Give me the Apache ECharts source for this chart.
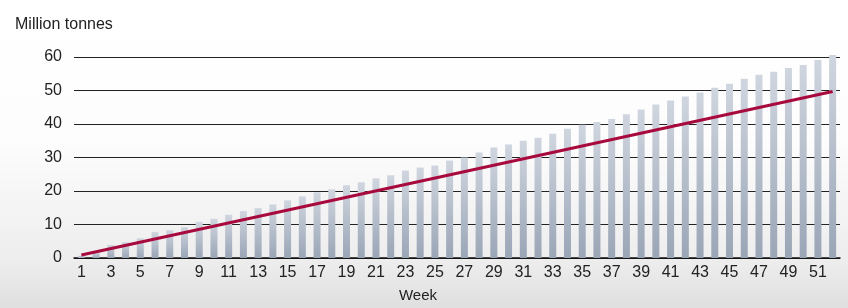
<!DOCTYPE html>
<html>
<head>
<meta charset="utf-8">
<script src="https://cdn.jsdelivr.net/npm/echarts@6/dist/echarts.min.js"></script>
<style>
  html, body { margin: 0; padding: 0; }
  #chart { width: 848px; height: 308px; }
</style>
</head>
<body>
<div id="chart"></div>
<script>
const weeks = Array.from({ length: 52 }, (_, i) => String(i + 1))

// cumulative tonnage per week (million tonnes)
const actual = [
  0.7, 1.7, 3.9, 4.7, 5.9, 7.8, 8.3, 9.2, 10.8, 11.7,
  12.9, 14.0, 14.9, 16.0, 17.2, 18.4, 19.6, 20.5, 21.7, 22.6,
  23.8, 24.7, 26.1, 27.0, 27.6, 29.1, 30.0, 31.5, 33.0, 33.9,
  35.0, 35.9, 37.1, 38.6, 39.8, 40.6, 41.5, 42.9, 44.3, 45.8,
  47.0, 48.2, 49.4, 50.8, 52.0, 53.5, 54.7, 55.6, 56.7, 57.6,
  59.1, 60.6,
]

// straight target line, read at its two ends
const target = [['1', 0.9], ['52', 49.7]]

const yTicks = { min: 0, max: 60, interval: 10 }

const FONT = 'Liberation Sans, Arial, sans-serif'

const chart = echarts.init(document.getElementById('chart'), null, { renderer: 'canvas' })

chart.setOption({
  animation: false,
  backgroundColor: new echarts.graphic.LinearGradient(0, 0, 0, 1, [
    { offset: 0, color: '#ffffff' },
    { offset: 0.45, color: '#fdfdfd' },
    { offset: 0.85, color: '#ededed' },
    { offset: 1, color: '#dfdfdf' },
  ]),
  title: {
    text: 'Million tonnes',
    left: 10,
    top: 12,
    textStyle: { fontFamily: FONT, fontSize: 16, fontWeight: 'normal', color: '#222' },
  },
  grid: { left: 74, right: 8, top: 57, bottom: 49 },
  xAxis: {
    type: 'category',
    data: weeks,
    boundaryGap: true,
    name: 'Week',
    nameLocation: 'middle',
    nameGap: 30,
    nameTextStyle: { fontFamily: FONT, fontSize: 15, color: '#222', padding: [0, 78, 0, 0] },
    axisLine: { lineStyle: { color: '#111', width: 1.5 } },
    axisTick: { show: false },
    axisLabel: { interval: 1, margin: 7, fontFamily: FONT, fontSize: 16, color: '#222' },
  },
  yAxis: {
    type: 'value',
    min: yTicks.min,
    max: yTicks.max,
    interval: yTicks.interval,
    axisLine: { show: false },
    axisTick: { show: false },
    axisLabel: { margin: 12, fontFamily: FONT, fontSize: 16, color: '#222' },
    splitLine: { lineStyle: { color: '#222', width: 1 } },
  },
  series: [
    {
      type: 'bar',
      data: actual,
      barWidth: 7,
      clip: false,
      itemStyle: {
        color: new echarts.graphic.LinearGradient(0, 0, 0, 1, [
          { offset: 0, color: '#d0d6df' },
          { offset: 1, color: '#9aa5b6' },
        ]),
      },
    },
    {
      type: 'line',
      data: target,
      symbol: 'none',
      lineStyle: { color: '#a80a3d', width: 3 },
      z: 3,
    },
  ],
})
</script>
</body>
</html>
